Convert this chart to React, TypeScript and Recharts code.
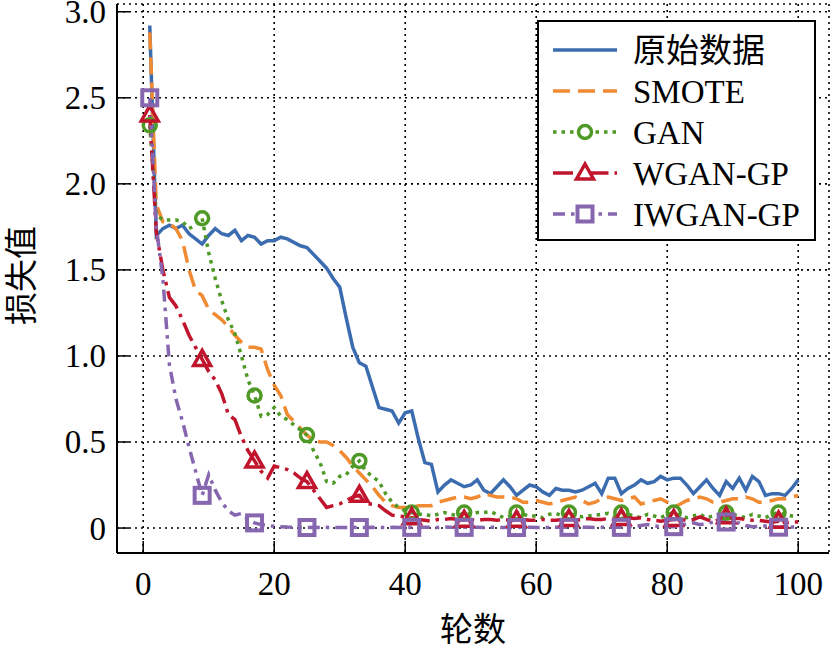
import React from "react";
import {
  LineChart,
  Line,
  XAxis,
  YAxis,
  CartesianGrid,
  Legend,
} from "recharts";

// training epochs
const epochs = [
  1, 2, 3, 4, 5, 6, 7, 8, 9, 10, 11, 12, 13, 14, 15, 16, 17, 18, 19, 20,
  21, 22, 23, 24, 25, 26, 27, 28, 29, 30, 31, 32, 33, 34, 35, 36, 37, 38, 39, 40,
  41, 42, 43, 44, 45, 46, 47, 48, 49, 50, 51, 52, 53, 54, 55, 56, 57, 58, 59, 60,
  61, 62, 63, 64, 65, 66, 67, 68, 69, 70, 71, 72, 73, 74, 75, 76, 77, 78, 79, 80,
  81, 82, 83, 84, 85, 86, 87, 88, 89, 90, 91, 92, 93, 94, 95, 96, 97, 98, 99, 100,
];

// loss per epoch for each training set
const rawLoss = [
  2.92, 1.7, 1.74, 1.76, 1.74, 1.76, 1.71, 1.68, 1.65, 1.7, 1.74, 1.71, 1.7, 1.73, 1.67, 1.7, 1.69, 1.65, 1.67, 1.67,
  1.69, 1.68, 1.66, 1.64, 1.63, 1.59, 1.55, 1.51, 1.45, 1.4, 1.22, 1.05, 0.96, 0.94, 0.82, 0.7, 0.69, 0.68, 0.61, 0.67,
  0.68, 0.52, 0.38, 0.37, 0.21, 0.25, 0.28, 0.26, 0.24, 0.25, 0.28, 0.22, 0.2, 0.24, 0.28, 0.24, 0.19, 0.22, 0.25, 0.24,
  0.21, 0.19, 0.23, 0.22, 0.22, 0.21, 0.22, 0.24, 0.26, 0.2, 0.29, 0.29, 0.2, 0.23, 0.25, 0.28, 0.26, 0.27, 0.3, 0.28,
  0.29, 0.29, 0.25, 0.2, 0.24, 0.28, 0.23, 0.19, 0.27, 0.23, 0.29, 0.22, 0.3, 0.27, 0.19, 0.2, 0.2, 0.19, 0.23, 0.28,
];

const smoteLoss = [
  2.88, 1.88, 1.78, 1.77, 1.74, 1.67, 1.5, 1.38, 1.35, 1.27, 1.24, 1.21, 1.17, 1.12, 1.08, 1.05, 1.05, 1.04, 0.92, 0.83,
  0.77, 0.66, 0.62, 0.58, 0.54, 0.51, 0.5, 0.5, 0.48, 0.45, 0.41, 0.36, 0.32, 0.28, 0.24, 0.19, 0.15, 0.13, 0.12, 0.12,
  0.12, 0.13, 0.13, 0.13, 0.15, 0.16, 0.17, 0.18, 0.18, 0.17, 0.18, 0.2, 0.19, 0.18, 0.18, 0.18, 0.17, 0.15, 0.15, 0.16,
  0.15, 0.14, 0.15, 0.16, 0.17, 0.18, 0.16, 0.14, 0.15, 0.17, 0.18, 0.17, 0.16, 0.17, 0.18, 0.14, 0.15, 0.16, 0.17, 0.15,
  0.12, 0.14, 0.16, 0.17, 0.18, 0.17, 0.15, 0.15, 0.16, 0.17, 0.17, 0.18, 0.17, 0.15, 0.15, 0.16, 0.17, 0.17, 0.18, 0.19,
];

const ganLoss = [
  2.34, 1.82, 1.79, 1.79, 1.79, 1.78, 1.74, 1.76, 1.8, 1.6, 1.45, 1.32, 1.21, 1.13, 1.0, 0.86, 0.77, 0.65, 0.66, 0.7,
  0.65, 0.63, 0.6, 0.57, 0.54, 0.45, 0.38, 0.27, 0.26, 0.3, 0.31, 0.36, 0.39, 0.33, 0.3, 0.27, 0.2, 0.15, 0.12, 0.1,
  0.09, 0.08, 0.08, 0.07, 0.08, 0.09, 0.08, 0.07, 0.09, 0.08, 0.09, 0.09, 0.095, 0.08, 0.06, 0.07, 0.09, 0.08, 0.07, 0.07,
  0.06, 0.08, 0.085, 0.07, 0.09, 0.07, 0.065, 0.07, 0.075, 0.08, 0.085, 0.07, 0.09, 0.08, 0.07, 0.06, 0.08, 0.07, 0.06, 0.08,
  0.09, 0.07, 0.06, 0.07, 0.08, 0.06, 0.07, 0.08, 0.09, 0.08, 0.07, 0.06, 0.08, 0.07, 0.06, 0.08, 0.09, 0.08, 0.07, 0.07,
];

const wganLoss = [
  2.4, 1.72, 1.5, 1.34, 1.29, 1.21, 1.12, 1.05, 0.98, 0.91, 0.86, 0.78, 0.66, 0.63, 0.53, 0.45, 0.39, 0.33, 0.29, 0.36,
  0.35, 0.34, 0.32, 0.29, 0.27, 0.22, 0.17, 0.12, 0.13, 0.14, 0.16, 0.18, 0.19, 0.14, 0.14, 0.13, 0.1, 0.075, 0.07, 0.065,
  0.06, 0.05, 0.045, 0.04, 0.05, 0.05, 0.055, 0.05, 0.045, 0.05, 0.045, 0.05, 0.05, 0.045, 0.05, 0.045, 0.045, 0.05, 0.045, 0.045,
  0.05, 0.045, 0.045, 0.05, 0.05, 0.045, 0.05, 0.055, 0.05, 0.05, 0.055, 0.05, 0.055, 0.06, 0.055, 0.06, 0.05, 0.045, 0.04, 0.045,
  0.05, 0.05, 0.045, 0.05, 0.065, 0.05, 0.035, 0.05, 0.065, 0.055, 0.055, 0.05, 0.045, 0.045, 0.04, 0.035, 0.04, 0.03, 0.035, 0.035,
];

const iwganLoss = [
  2.5, 1.75, 1.45, 0.95, 0.75, 0.62, 0.47, 0.33, 0.19, 0.31, 0.22, 0.15, 0.1, 0.075, 0.085, 0.05, 0.03, 0.02, 0.015, 0.01,
  0.008, 0.006, 0.005, 0.004, 0.003, 0.004, 0.003, 0.004, 0.003, 0.003, 0.003, 0.004, 0.003, 0.003, 0.004, 0.003, 0.003, 0.004, 0.003, 0.003,
  0.004, 0.003, 0.005, 0.004, 0.003, 0.006, 0.004, 0.003, 0.004, 0.005, 0.004, 0.003, 0.005, 0.004, 0.003, 0.004, 0.003, 0.005, 0.004, 0.003,
  0.004, 0.003, 0.005, 0.004, 0.004, 0.003, 0.005, 0.004, 0.003, 0.004, 0.005, 0.004, 0.004, 0.006, 0.01, 0.015, 0.02, 0.012, 0.008, 0.01,
  0.008, 0.015, 0.025, 0.03, 0.02, 0.025, 0.035, 0.045, 0.035, 0.03, 0.03, 0.015, 0.008, 0.01, 0.012, 0.008, 0.005, 0.008, 0.006, 0.005,
];

const xTicks = [0, 20, 40, 60, 80, 100];
const yTicks = [0, 0.5, 1.0, 1.5, 2.0, 2.5, 3.0];

const FONT = "'Liberation Serif', 'Times New Roman', 'Noto Sans CJK SC', serif";
const FS = 33;

type Marker = "none" | "circle" | "triangle" | "square";

const series: {
  key: string;
  name: string;
  color: string;
  dash?: string;
  marker: Marker;
}[] = [
  { key: "raw", name: "原始数据", color: "#3b6cb0", marker: "none" },
  { key: "smote", name: "SMOTE", color: "#f08b33", dash: "17 8", marker: "none" },
  { key: "gan", name: "GAN", color: "#4f9a26", dash: "3.5 5", marker: "circle" },
  { key: "wgan", name: "WGAN-GP", color: "#c0152c", dash: "20 6 3.5 6", marker: "triangle" },
  { key: "iwgan", name: "IWGAN-GP", color: "#8766b0", dash: "12 6 3.5 6", marker: "square" },
];

const data = epochs.map((epoch, i) => ({
  epoch,
  raw: rawLoss[i],
  smote: smoteLoss[i],
  gan: ganLoss[i],
  wgan: wganLoss[i],
  iwgan: iwganLoss[i],
}));

function markerShape(kind: Marker, cx: number, cy: number, color: string, fill = "none") {
  if (kind === "circle") {
    return <circle cx={cx} cy={cy} r={6.5} fill={fill} stroke={color} strokeWidth={3.5} />;
  }
  if (kind === "triangle") {
    const pts = `${cx},${cy - 9} ${cx - 8.5},${cy + 6} ${cx + 8.5},${cy + 6}`;
    return <polygon points={pts} fill={fill} stroke={color} strokeWidth={3.5} />;
  }
  if (kind === "square") {
    return (
      <rect x={cx - 7.5} y={cy - 7.5} width={15} height={15} fill={fill} stroke={color} strokeWidth={4} />
    );
  }
  return null;
}

// a marker on every 8th epoch, starting at the first one
const makeDot = (kind: Marker, color: string) => (props: any) => {
  const { cx, cy, index } = props;
  if (index % 8 !== 0 || cx == null || cy == null) return <g key={`dot-${index}`} />;
  return (
    <g key={`dot-${index}`} strokeDasharray="none">
      {markerShape(kind, cx, cy, color)}
    </g>
  );
};

const XTick = (props: any) => {
  const { x, y, payload } = props;
  return (
    <g>
      <line x1={x} x2={x} y1={y} y2={y - 12} stroke="#000" strokeWidth={1.5} />
      <text x={x} y={y + 42} textAnchor="middle" fontSize={FS} fontFamily={FONT} fill="#000">
        {payload.value}
      </text>
    </g>
  );
};

const YTick = (props: any) => {
  const { x, y, payload } = props;
  const v = payload.value as number;
  return (
    <g>
      <line x1={x} x2={x + 12} y1={y} y2={y} stroke="#000" strokeWidth={1.5} />
      <text x={x - 11} y={y + 11.5} textAnchor="end" fontSize={FS} fontFamily={FONT} fill="#000">
        {v === 0 ? "0" : v.toFixed(1)}
      </text>
    </g>
  );
};

const LegendBox = () => {
  const rows = [30, 71, 112, 153, 194];
  return (
    <svg width={280} height={222} style={{ display: "block" }}>
      <rect x={1} y={1} width={277} height={219} fill="#fff" stroke="#000" strokeWidth={2} />
      {series.map((s, i) => {
        const cy = rows[i];
        return (
          <g key={s.key}>
            <line
              x1={16}
              x2={80}
              y1={cy}
              y2={cy}
              stroke={s.color}
              strokeWidth={3.5}
              strokeDasharray={s.dash}
            />
            {markerShape(s.marker, 48, cy, s.color, "#fff")}
            <text x={96} y={cy + 11.5} fontSize={FS} fontFamily={FONT} fill="#000">
              {s.name}
            </text>
          </g>
        );
      })}
    </svg>
  );
};

export default function App() {
  return (
    <div style={{ position: "absolute", left: 0, top: 0, background: "#fff" }}>
      <LineChart
        width={832}
        height={648}
        data={data}
        margin={{ top: 4, right: 3, left: 0, bottom: 0 }}
      >
        <CartesianGrid stroke="#000" strokeWidth={1.6} strokeDasharray="2 4" />
        <XAxis
          dataKey="epoch"
          type="number"
          domain={[-4, 104.7]}
          ticks={xTicks}
          allowDataOverflow
          height={95}
          tickSize={0}
          tickMargin={0}
          tickLine={false}
          tick={<XTick />}
          axisLine={{ stroke: "#000", strokeWidth: 2 }}
          label={{
            content: (p: any) => {
              const vb = p.viewBox;
              return (
                <text
                  x={vb.x + vb.width / 2}
                  y={vb.y + 88}
                  textAnchor="middle"
                  fontSize={FS}
                  fontFamily={FONT}
                  fill="#000"
                >
                  轮数
                </text>
              );
            },
          }}
        />
        <XAxis
          xAxisId="top"
          orientation="top"
          type="number"
          domain={[-4, 104.7]}
          height={0}
          tick={false}
          tickLine={false}
          axisLine={{ stroke: "#000", strokeWidth: 2 }}
        />
        <YAxis
          type="number"
          domain={[-0.145, 3.045]}
          ticks={yTicks}
          allowDataOverflow
          width={117}
          tickSize={0}
          tickMargin={0}
          tickLine={false}
          tick={<YTick />}
          axisLine={{ stroke: "#000", strokeWidth: 2 }}
          label={{
            content: (p: any) => {
              const vb = p.viewBox;
              const cx = 22;
              const cy = vb.y + vb.height / 2 - 3;
              return (
                <text
                  x={cx}
                  y={cy}
                  transform={`rotate(-90, ${cx}, ${cy})`}
                  textAnchor="middle"
                  dominantBaseline="central"
                  fontSize={FS}
                  fontFamily={FONT}
                  fill="#000"
                >
                  损失值
                </text>
              );
            },
          }}
        />
        <YAxis
          yAxisId="right"
          orientation="right"
          type="number"
          domain={[-0.145, 3.045]}
          width={0}
          tick={false}
          tickLine={false}
          axisLine={{ stroke: "#000", strokeWidth: 2 }}
        />
        {series.map((s) => (
          <Line
            key={s.key}
            type="linear"
            dataKey={s.key}
            name={s.name}
            stroke={s.color}
            strokeWidth={3.5}
            strokeDasharray={s.dash}
            dot={s.marker === "none" ? false : makeDot(s.marker, s.color)}
            activeDot={false}
            isAnimationActive={false}
          />
        ))}
        <Legend
          layout="vertical"
          align="center"
          verticalAlign="middle"
          content={<LegendBox />}
          wrapperStyle={{ left: 537, top: 20, width: 280, height: 222 }}
        />
      </LineChart>
    </div>
  );
}
